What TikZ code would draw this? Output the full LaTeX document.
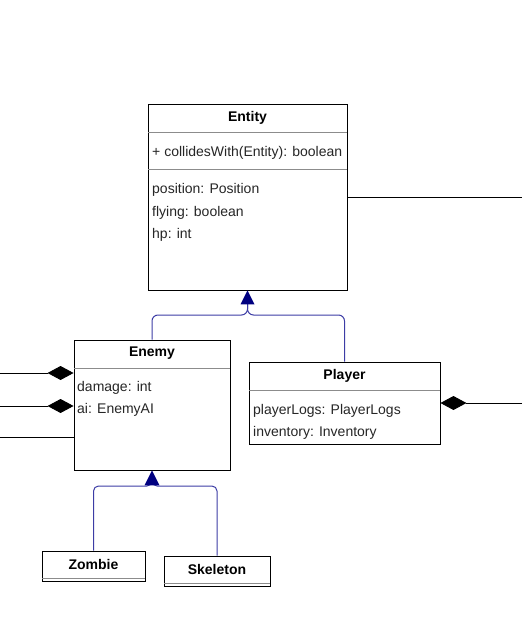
\documentclass[tikz,border=0pt]{standalone}
\usepackage{fontspec}
\setmainfont{Liberation Sans}
\usetikzlibrary{positioning, arrows.meta}

\definecolor{genblue}{RGB}{0,0,128}
\definecolor{genline}{RGB}{60,60,165}
\definecolor{sepgray}{RGB}{140,140,140}

\tikzset{
  classbox/.style={draw, line width=0.9pt, fill=white, inner sep=0pt},
  classname/.style={font=\fontsize{14}{16}\selectfont\bfseries, inner sep=0pt, yshift=-1.5pt},
  field/.style={font=\fontsize{14}{16}\selectfont, inner sep=0pt, anchor=west, text=black!85, yshift=-1.5pt},
  sepline/.style={sepgray, line width=0.8pt},
  genpath/.style={genline, line width=1pt, rounded corners=6pt},
  compline/.style={line width=0.9pt, -{Diamond[width=14pt, length=26pt]}},
  assocline/.style={line width=0.9pt}
}

\begin{document}
\begin{tikzpicture}[x=1pt, y=-1pt]
\useasboundingbox (0,0) rectangle (522,642);

        % Entity class
        \node[classbox, minimum width=199pt, minimum height=186pt] (entity) at (247.5,197) {};
        \node[classname] (entityT) at (247.5,116) {Entity};
        \draw[sepline] (148,132) -- (347,132);
        \node[field] (entityM) at (152,151) {+ collidesWith(Entity): boolean};
        \draw[sepline] (148,169) -- (347,169);
        \node[field] (entityF1) at (152,188) {position: Position};
        \node[field] (entityF2) at (152,211) {flying: boolean};
        \node[field] (entityF3) at (152,233) {hp: int};

        % Enemy class
        \node[classbox, minimum width=156pt, minimum height=130pt] (enemy) at (152,405) {};
        \node[classname] (enemyT) at (152,352) {Enemy};
        \draw[sepline] (74,368) -- (230,368);
        \node[field] (enemyF1) at (77,386) {damage: int};
        \node[field] (enemyF2) at (77,408) {ai: EnemyAI};

        % Player class
        \node[classbox, minimum width=191pt, minimum height=82pt] (player) at (344.5,403) {};
        \node[classname] (playerT) at (344.5,374) {Player};
        \draw[sepline] (249,390) -- (440,390);
        \node[field] (playerF1) at (253,409) {playerLogs: PlayerLogs};
        \node[field] (playerF2) at (253,431) {inventory: Inventory};

        % Zombie and Skeleton classes
        \node[classbox, minimum width=103pt, minimum height=30pt] (zombie) at (93.5,566) {};
        \node[classname] (zombieT) at (93.5,563) {Zombie};
        \draw[sepline] (42,578) -- (145,578);
        \node[classbox, minimum width=106pt, minimum height=30pt] (skeleton) at (217,571) {};
        \node[classname] (skeletonT) at (217,568) {Skeleton};
        \draw[sepline] (164,583) -- (270,583);

        % Free ends of the cut connectors
        \coordinate (L1) at (0,373);
        \coordinate (L2) at (0,406);
        \coordinate (L3) at (0,437);
        \coordinate (R1) at (522,197);
        \coordinate (R2) at (522,403);

        % Inheritance Enemy/Player -> Entity
        \draw[genpath] (player.north) -- (player.north |- 0,315) -- (entity.south |- 0,315) -- (entity.south |- 0,303);
        \draw[genpath] (enemy.north) -- (enemy.north |- 0,315) -- (entity.south |- 0,315) -- (entity.south |- 0,303);
        \fill[genblue] (entity.south) -- ++(-7,14) -- ++(14,0) -- cycle;

        % Inheritance Zombie/Skeleton -> Enemy
        \draw[genpath, rounded corners=5pt] (skeleton.north) -- (skeleton.north |- 0,486) -- (enemy.south |- 0,486) -- (enemy.south |- 0,483);
        \draw[genpath, rounded corners=5pt] (zombie.north) -- (zombie.north |- 0,486) -- (enemy.south |- 0,486) -- (enemy.south |- 0,483);
        \fill[genblue] (enemy.south) -- ++(-7.5,15) -- ++(15,0) -- cycle;

        % Compositions and associations
        \draw[compline] (L1) -- (L1 -| enemy.west);
        \draw[compline] (L2) -- (L2 -| enemy.west);
        \draw[assocline] (L3) -- (L3 -| enemy.west);
        \draw[compline] (R2) -- (R2 -| player.east);
        \draw[assocline] (R1 -| entity.east) -- (R1);
\end{tikzpicture}
\end{document}
